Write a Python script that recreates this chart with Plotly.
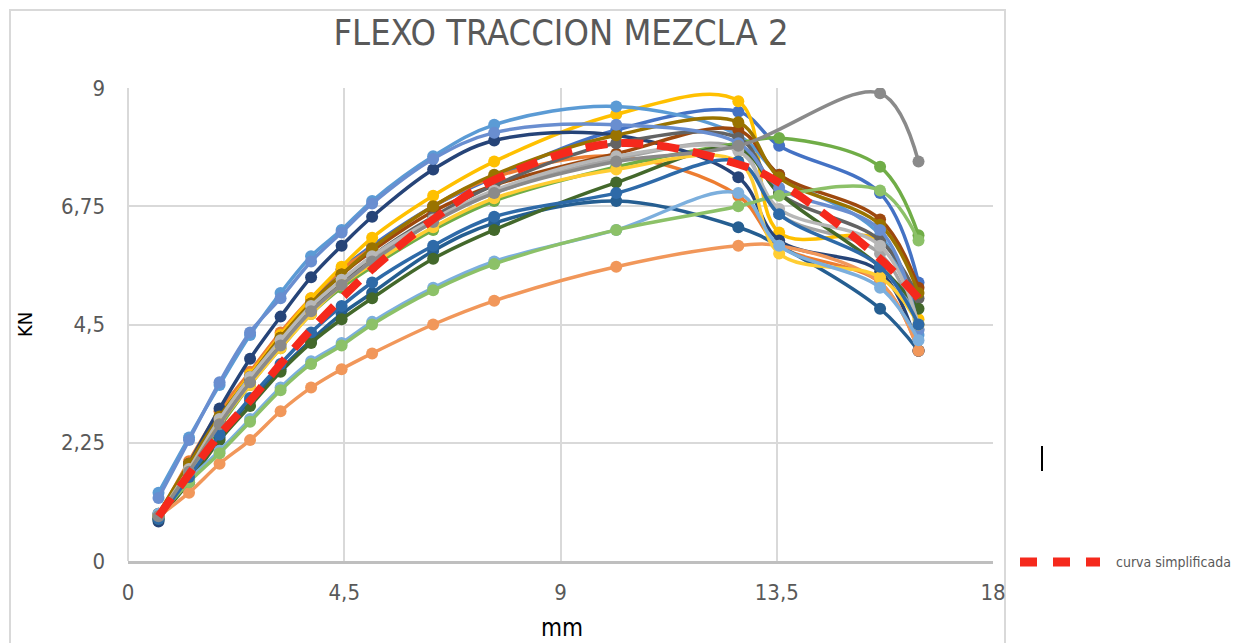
import plotly.graph_objects as go

# deflection (mm)
x_mm = [0.635, 1.27, 1.905, 2.54, 3.175, 3.81, 4.445, 5.08, 6.35, 7.62, 10.16, 12.7, 13.55, 15.65, 16.45]

# load (KN) for each specimen
s_blue      = [0.90, 1.80, 2.70, 3.45, 4.20, 4.95, 5.55, 6.00, 6.75, 7.30, 8.20, 8.55, 7.90, 7.00, 5.30]
s_orange    = [0.85, 1.90, 2.85, 3.60, 4.35, 5.00, 5.55, 5.95, 6.75, 7.30, 7.70, 6.95, 6.00, 5.30, 4.00]
s_gray      = [0.85, 1.75, 2.65, 3.45, 4.15, 4.80, 5.30, 5.75, 6.45, 7.00, 7.65, 7.85, 6.60, 5.85, 4.40]
s_gold      = [0.85, 1.80, 2.75, 3.55, 4.30, 5.00, 5.60, 6.15, 6.95, 7.60, 8.50, 8.75, 6.25, 6.10, 4.60]
s_ltblue    = [1.30, 2.35, 3.35, 4.30, 5.10, 5.80, 6.30, 6.85, 7.70, 8.30, 8.65, 8.10, 7.35, 6.20, 4.30]
s_green     = [0.80, 1.70, 2.55, 3.35, 4.05, 4.70, 5.20, 5.60, 6.30, 6.85, 7.50, 7.95, 8.05, 7.50, 6.20]
s_navy      = [0.75, 1.85, 2.90, 3.85, 4.65, 5.40, 6.00, 6.55, 7.45, 8.00, 8.10, 7.30, 6.10, 5.50, 4.00]
s_brown     = [0.85, 1.75, 2.70, 3.50, 4.25, 4.90, 5.45, 5.90, 6.65, 7.15, 7.75, 8.20, 7.35, 6.50, 5.20]
s_dkgray    = [0.85, 1.75, 2.65, 3.45, 4.15, 4.80, 5.30, 5.80, 6.55, 7.15, 7.95, 8.05, 7.00, 6.10, 5.00]
s_dkgold    = [0.90, 1.85, 2.75, 3.50, 4.25, 4.90, 5.45, 5.95, 6.75, 7.35, 8.10, 8.35, 7.30, 6.40, 5.10]
s_steel     = [0.80, 1.55, 2.35, 3.05, 3.65, 4.20, 4.70, 5.10, 5.90, 6.43, 6.85, 6.35, 6.00, 4.80, 4.00]
s_dkgreen   = [0.80, 1.50, 2.30, 2.95, 3.60, 4.15, 4.60, 5.00, 5.75, 6.30, 7.20, 7.85, 7.00, 5.60, 4.80]
s_midblue   = [1.20, 2.30, 3.40, 4.35, 5.00, 5.70, 6.25, 6.80, 7.65, 8.15, 8.30, 7.95, 7.10, 6.30, 4.40]
s_ltorange  = [0.85, 1.30, 1.85, 2.30, 2.85, 3.30, 3.65, 3.95, 4.50, 4.95, 5.60, 6.00, 6.00, 5.30, 4.00]
s_ltgray    = [0.85, 1.75, 2.70, 3.50, 4.20, 4.85, 5.35, 5.80, 6.50, 7.05, 7.70, 7.80, 6.70, 6.00, 4.50]
s_ltgold    = [0.85, 1.70, 2.60, 3.35, 4.05, 4.70, 5.25, 5.65, 6.35, 6.90, 7.45, 7.60, 5.85, 5.40, 4.50]
s_skyblue   = [0.90, 1.55, 2.10, 2.70, 3.30, 3.80, 4.15, 4.55, 5.20, 5.70, 6.30, 7.00, 6.00, 5.20, 4.20]
s_ltgreen   = [0.85, 1.50, 2.05, 2.65, 3.25, 3.75, 4.10, 4.50, 5.15, 5.65, 6.30, 6.75, 6.95, 7.05, 6.10]
s_steel2    = [0.80, 1.60, 2.40, 3.10, 3.75, 4.35, 4.85, 5.30, 6.00, 6.55, 7.00, 7.60, 6.60, 5.60, 4.50]
s_midgray   = [0.85, 1.70, 2.60, 3.40, 4.10, 4.75, 5.25, 5.70, 6.45, 7.00, 7.60, 7.90, None, 8.90, 7.60]

# simplified curve
simplified = [0.85, 1.65, 2.40, 3.05, 3.75, 4.40, 5.00, 5.55, 6.50, 7.25, 7.95, 7.55, 7.20, 5.75, 5.00]

series = [
    (s_blue, "#4472C4"), (s_orange, "#ED7D31"), (s_gray, "#A5A5A5"), (s_gold, "#FFC000"),
    (s_ltblue, "#5B9BD5"), (s_green, "#70AD47"), (s_navy, "#264478"), (s_brown, "#9E480E"),
    (s_dkgray, "#636363"), (s_dkgold, "#997300"), (s_steel, "#255E91"), (s_dkgreen, "#43682B"),
    (s_midblue, "#698ED0"), (s_ltorange, "#F1975A"), (s_ltgray, "#B7B7B7"), (s_ltgold, "#FFCD33"),
    (s_skyblue, "#7CAFDD"), (s_ltgreen, "#8CC168"), (s_steel2, "#2E6AA8"), (s_midgray, "#8A8A8A"),
]

fig = go.Figure()
for i, (vals, col) in enumerate(series):
    fig.add_trace(go.Scatter(
        x=x_mm, y=vals, mode="lines+markers", name=f"Serie{i+1}",
        line=dict(color=col, width=3.5, shape="spline", smoothing=1.0),
        marker=dict(color=col, size=12), connectgaps=True, showlegend=False,
    ))

fig.add_trace(go.Scatter(
    x=x_mm, y=simplified, mode="lines", name="curva simplificada",
    line=dict(color="#F5291C", width=8, dash="22px,14px", shape="spline", smoothing=1.0),
    showlegend=False,
))

# geometry helpers (pixels -> paper)
L, R, T, B = 128, 993, 88, 561
def px(xp):
    return (xp - L) / (R - L)
def py(yp):
    return (B - yp) / (B - T)

font_fam = "Liberation Sans Narrow, DejaVu Sans Condensed, Open Sans, sans-serif"

fig.update_layout(
    width=1259, height=643, autosize=False,
    margin=dict(l=L, r=1259 - R, t=T, b=643 - B),
    paper_bgcolor="white", plot_bgcolor="white",
    font=dict(family=font_fam, color="#595959", size=22),
    title=dict(text="FLEXO TRACCION MEZCLA 2", x=561 / 1259, xanchor="center",
               y=1 - 32 / 643, yanchor="middle",
               font=dict(family=font_fam, size=36, color="#595959")),
    xaxis=dict(range=[0, 18], tickvals=[0, 4.5, 9, 13.5, 18],
               ticktext=["0", "4,5", "9", "13,5", "18"],
               showgrid=True, gridcolor="#D9D9D9", gridwidth=2,
               zeroline=False, showline=True, linecolor="#BFBFBF", linewidth=3,
               ticks="", ticklabelstandoff=10, tickfont=dict(size=22)),
    yaxis=dict(range=[0, 9], tickvals=[0, 2.25, 4.5, 6.75, 9],
               ticktext=["0", "2,25", "4,5", "6,75", "9"],
               showgrid=True, gridcolor="#D9D9D9", gridwidth=2,
               zeroline=False, showline=False,
               ticks="", ticklabelstandoff=22, tickfont=dict(size=22)),
    showlegend=False,
)

shapes = [
    # chart-area border
    dict(type="rect", xref="paper", yref="paper", x0=px(10), x1=px(1005), y0=py(660), y1=py(10),
         line=dict(color="#D9D9D9", width=2), fillcolor="rgba(0,0,0,0)", layer="below"),
    # left grid line at x=0
    dict(type="line", xref="paper", yref="paper", x0=0, x1=0, y0=0, y1=1,
         line=dict(color="#D9D9D9", width=2), layer="below"),
    # legend sample
    dict(type="line", xref="paper", yref="paper", x0=px(1020), x1=px(1100), y0=py(562), y1=py(562),
         line=dict(color="#F5291C", width=9, dash="17px,16px")),
    # text cursor mark
    dict(type="line", xref="paper", yref="paper", x0=px(1042), x1=px(1042), y0=py(446), y1=py(471),
         line=dict(color="black", width=2)),
]
fig.update_layout(shapes=shapes)

fig.add_annotation(text="curva simplificada", xref="paper", yref="paper",
                   x=px(1114), y=py(562), xanchor="left", yanchor="middle", showarrow=False,
                   font=dict(family=font_fam, size=14, color="#595959"))
fig.add_annotation(text="KN", xref="paper", yref="paper", x=px(25), y=py(325),
                   xanchor="center", yanchor="middle", showarrow=False, textangle=-90,
                   font=dict(family=font_fam, size=20, color="#000000"))
fig.add_annotation(text="mm", xref="paper", yref="paper", x=px(562), y=py(628),
                   xanchor="center", yanchor="middle", showarrow=False,
                   font=dict(family=font_fam, size=24, color="#000000"))

fig.write_html("out.html")
